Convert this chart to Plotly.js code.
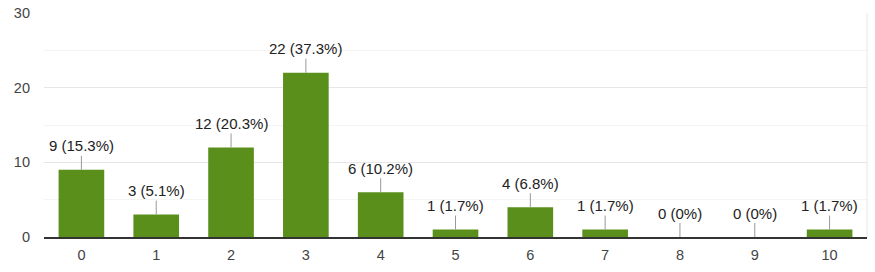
<!DOCTYPE html>
<html>
<head>
<meta charset="utf-8">
<script src="https://cdn.plot.ly/plotly-3.0.1.min.js"></script>
<style>html,body{margin:0;padding:0;background:#fff;}#chart{width:875px;height:272px;}</style>
</head>
<body>
<div id="chart"></div>
<script>
var categories = ['0','1','2','3','4','5','6','7','8','9','10'];
var counts = [9, 3, 12, 22, 6, 1, 4, 1, 0, 0, 1];
var labels = ['9 (15.3%)','3 (5.1%)','12 (20.3%)','22 (37.3%)','6 (10.2%)','1 (1.7%)','4 (6.8%)','1 (1.7%)','0 (0%)','0 (0%)','1 (1.7%)'];
var yTicks = [0, 10, 20, 30];

var annotations = categories.map(function(c, i){
  return {x: c, y: counts[i], xref:'x', yref:'y', text: labels[i], showarrow:true,
    arrowhead:0, arrowwidth:1, arrowcolor:'#999', ax:0, ay:-24, standoff:0,
    font:{family:'Liberation Sans, Arial, sans-serif', size:15, color:'#222'}};
});

var trace = {type:'bar', x: categories, y: counts, marker:{color:'#5a8f1b'}, width:0.61, hoverinfo:'none'};

var layout = {
  width:875, height:272,
  margin:{l:44, r:8, t:13, b:35},
  paper_bgcolor:'#fff', plot_bgcolor:'#fff',
  showlegend:false,
  bargap:0.39,
  font:{family:'Liberation Sans, Arial, sans-serif', size:14, color:'#444'},
  xaxis:{type:'category', showgrid:false, showline:true, linecolor:'#333', linewidth:1.5,
    ticks:'', ticklabelstandoff:4, tickfont:{size:14.5, color:'#444'}},
  yaxis:{range:[0,30], tickvals:yTicks, showgrid:true, gridcolor:'#e6e6e6', gridwidth:1,
    zeroline:false, ticks:'', ticklabelstandoff:13, tickfont:{size:14.5, color:'#444'},
    minor:{dtick:5, showgrid:true, gridcolor:'#f4f4f4', gridwidth:1}},
  shapes:[{type:'line', xref:'paper', yref:'paper', x0:1, x1:1, y0:0, y1:1, line:{color:'#e6e6e6', width:1}}],
  annotations: annotations
};
Plotly.newPlot('chart', [trace], layout, {staticPlot:true, displayModeBar:false});
</script>
</body>
</html>
